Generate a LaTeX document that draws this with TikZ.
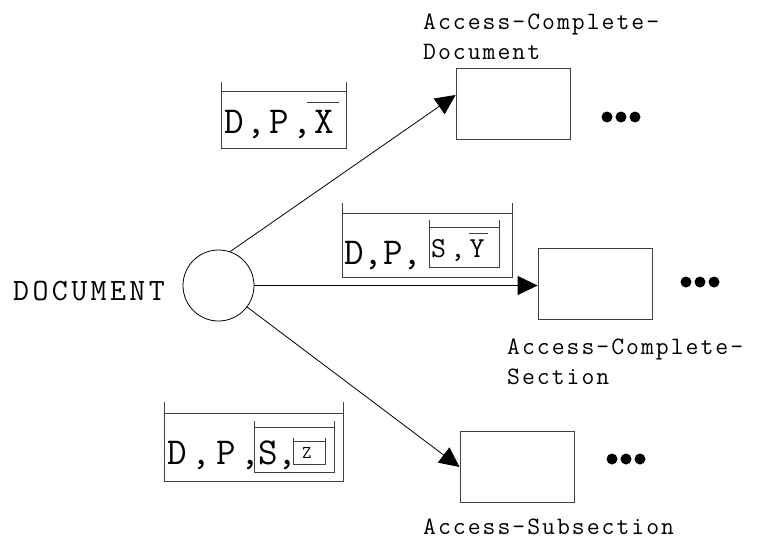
\documentclass[tikz,border=0pt]{standalone}
\usepackage{fontspec}
\setmonofont{Latin Modern Mono}
\usetikzlibrary{arrows.meta}

% typewriter text at a given size, line distance and letter spacing
\newcommand\monoat[3]{\ttfamily\fontsize{#1}{#2}\selectfont
  \addfontfeature{LetterSpace=#3}}
% open-topped tray: left, right, top of sides, rim line, bottom
\newcommand\tray[5]{%
  \draw[trayline] (#1,#3) -- (#1,#5) -- (#2,#5) -- (#2,#3)
                  (#1,#4) -- (#2,#4);}

\tikzset{
  trayline/.style={draw=black!75, line width=0.8pt},
  accessbox/.style={draw=black!75, line width=0.8pt, inner sep=0,
                    minimum width=114pt, minimum height=71pt},
  flow/.style={draw, line width=0.8pt,
               -{Triangle[length=20pt,width=19pt]}},
  moredot/.style={circle, fill, inner sep=0, minimum size=11pt},
  lbl/.style={font=\monoat{25}{30}{8}, anchor=base west, inner sep=0,
              align=left},
  traytext/.style={anchor=base west, inner sep=0},
}

\begin{document}
\begin{tikzpicture}[x=1pt, y=-1pt]
\useasboundingbox (0,0) rectangle (757,541);

% start node
\node[circle, draw, line width=0.8pt, minimum size=71pt, inner sep=0]
  (doc) at (218.5,285.5) {};
\node[anchor=base west, inner sep=0, font=\monoat{31}{31}{11}]
  (doclbl) at (13,300) {DOCUMENT};

% target boxes
\node[accessbox] (acd) at (513,103.5) {};
\node[accessbox] (acs) at (595,284) {};
\node[accessbox] (asub) at (517,467) {};

% box labels (anchored at the baseline of their last line)
\node[lbl] (acdlbl) at (423,59) {Access-Complete-\\Document};
\node[lbl] (acslbl) at (507,384) {Access-Complete-\\Section};
\node[lbl] (asublbl) at (423,534) {Access-Subsection};

% continuation dots
\node[moredot] (acd1) at (607,117) {};
\node[moredot] (acd2) at (621,117) {};
\node[moredot] (acd3) at (635,117) {};
\node[moredot] (acs1) at (686,282) {};
\node[moredot] (acs2) at (700,282) {};
\node[moredot] (acs3) at (714,282) {};
\node[moredot] (asub1) at (612,459) {};
\node[moredot] (asub2) at (626,459) {};
\node[moredot] (asub3) at (640,459) {};

% transitions
\draw[flow] (doc.71) -- ([yshift=8.5pt]acd.west);
\draw[flow] (doc.east) -- (acs.west |- doc.east);
\draw[flow] (doc.-37) -- (asub.west);

% tray for the complete document
\tray{221}{346}{82}{91}{148}
\node[traytext, font=\monoat{38}{38}{8}] (t1) at (224,133) {D,P,X};
\draw[trayline] (307,102) -- (339,102);

% tray for a complete section
\tray{342}{512}{203}{213}{277}
\tray{429}{499}{220}{227}{267}
\node[traytext, font=\monoat{38}{38}{0}] (t2) at (344,264) {D,P,};
\node[traytext, font=\monoat{29}{29}{15}] (t2s) at (431,257) {S,Y};
\draw[trayline] (469,233) -- (488,233);

% tray for a subsection
\tray{164}{343}{402}{413}{481}
\tray{254}{334}{421}{427}{472}
\tray{293}{325}{438}{441}{464}
\node[traytext, font=\monoat{38}{38}{13}] (t3) at (167,464) {D,P,};
\node[traytext, font=\monoat{38}{38}{0}] (t3s) at (258,464) {S,};
\node[traytext, font=\monoat{18}{18}{0}] (t3z) at (302,458) {Z};
\end{tikzpicture}
\end{document}
